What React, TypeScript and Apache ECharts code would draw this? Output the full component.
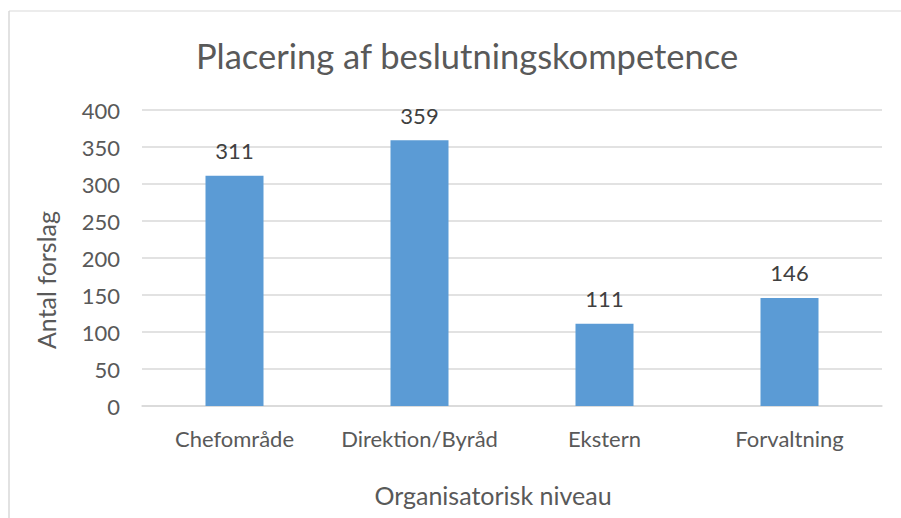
import React, { useEffect, useRef } from "react";
import * as echarts from "echarts";

const titleText = "Placering af beslutningskompetence";
const categories = ["Chefområde", "Direktion/Byråd", "Ekstern", "Forvaltning"];
const values = [311, 359, 111, 146];
const yAxisTitle = "Antal forslag";
const xAxisTitle = "Organisatorisk niveau";

const FONT = "Lato, 'Noto Sans', sans-serif";

export default function App() {
  const ref = useRef<HTMLDivElement>(null);
  useEffect(() => {
    if (!ref.current) return;
    const chart = echarts.init(ref.current, null, { renderer: "svg" });
    chart.setOption({
      animation: false,
      backgroundColor: "#ffffff",
      title: {
        text: titleText,
        left: 462,
        textAlign: "center",
        top: 33,
        textStyle: { fontFamily: FONT, fontSize: 34.5, fontWeight: "normal", color: "#595959" },
      },
      grid: { left: 142, right: 19, top: 110, bottom: 112 },
      xAxis: {
        type: "category",
        data: categories,
        axisTick: { show: false },
        axisLine: { lineStyle: { color: "#d9d9d9", width: 1.5 } },
        axisLabel: { interval: 0, hideOverlap: false, margin: 21, fontFamily: FONT, fontSize: 22, color: "#595959" },
      },
      yAxis: {
        type: "value",
        min: 0,
        max: 400,
        interval: 50,
        axisLine: { show: false },
        axisTick: { show: false },
        splitLine: { lineStyle: { color: "#d9d9d9", width: 1.5 } },
        axisLabel: { margin: 22, fontFamily: FONT, fontSize: 22, color: "#595959" },
      },
      series: [
        {
          type: "bar",
          data: values,
          barWidth: 58,
          itemStyle: { color: "#5b9bd5" },
          label: {
            show: true,
            position: "top",
            distance: 14,
            fontFamily: FONT,
            fontSize: 22,
            color: "#404040",
          },
        },
      ],
      graphic: [
        { type: "line", shape: { x1: 9, y1: 11, x2: 901, y2: 11 }, style: { stroke: "#d9d9d9", lineWidth: 1 }, silent: true },
        { type: "line", shape: { x1: 9, y1: 11, x2: 9, y2: 518 }, style: { stroke: "#d9d9d9", lineWidth: 1.5 }, silent: true },
        {
          type: "text",
          x: 46,
          y: 280,
          rotation: Math.PI / 2,
          style: {
            text: yAxisTitle,
            fontFamily: FONT,
            fontSize: 25,
            fill: "#595959",
            align: "center",
            verticalAlign: "middle",
          },
          silent: true,
        },
        {
          type: "text",
          x: 493,
          y: 495,
          style: {
            text: xAxisTitle,
            fontFamily: FONT,
            fontSize: 25,
            fill: "#595959",
            align: "center",
            verticalAlign: "middle",
          },
          silent: true,
        },
      ],
    });
    return () => chart.dispose();
  }, []);
  return (
    <div
      ref={ref}
      style={{ position: "fixed", left: 0, top: 0, width: 901, height: 518 }}
    />
  );
}
